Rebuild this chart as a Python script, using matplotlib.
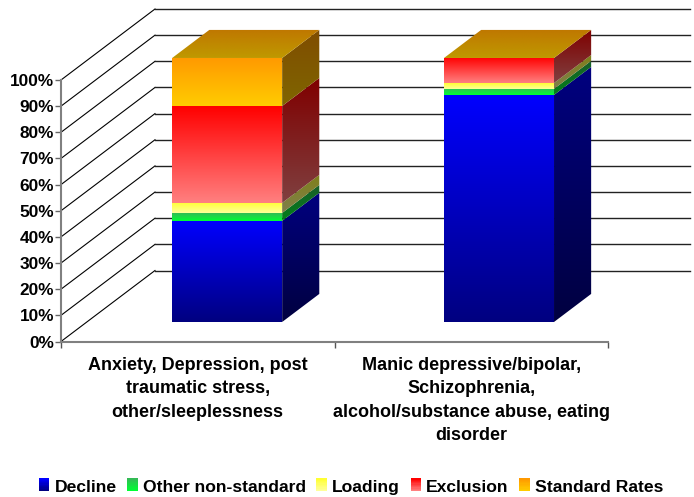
import numpy as np
import matplotlib
matplotlib.use("Agg")
import matplotlib.pyplot as plt
from matplotlib.colors import LinearSegmentedColormap, to_rgb
from matplotlib.legend_handler import HandlerBase
from matplotlib.patches import Polygon, Patch, Rectangle

plt.rcParams['font.family'] = ['Liberation Sans', 'DejaVu Sans']

categories = ["Anxiety, Depression, post\ntraumatic stress,\nother/sleeplessness",
              "Manic depressive/bipolar,\nSchizophrenia,\nalcohol/substance abuse, eating\ndisorder"]
series_names = ["Decline", "Other non-standard", "Loading", "Exclusion", "Standard Rates"]
decline = [38.3, 86.0]
other_non_standard = [3.0, 2.3]
loading = [3.8, 2.2]
exclusion = [36.7, 9.5]
standard_rates = [18.2, 0.0]
y_ticks = list(range(0, 101, 10))

# top colour, bottom colour of each series
grad_top = ["#0000ff", "#33bb55", "#ffff33", "#ff0000", "#ff9900"]
grad_bot = ["#000080", "#00ff33", "#ffff99", "#ff8080", "#ffcc00"]

# depth of the 3d box, in axes data units
WALL_DX = 94 / 273.5
WALL_DY = 71 / 2.615
BAR_T0 = 0.275
BAR_T1 = 0.67
BAR_W = 110 / 273.5
BAR_X = [0.513, 1.507]
BAR_SCALE = 264 / 261.5  # the boxes come out a touch taller than the axis


def project(x, v, t):
    return x + t * WALL_DX, v + t * WALL_DY


def darker(c, f=0.5):
    return tuple(f * a for a in to_rgb(c))


def face(ax, corners, top, bot, z):
    xs = [c[0] for c in corners]
    ys = [c[1] for c in corners]
    cmap = LinearSegmentedColormap.from_list("g", [top, bot])
    grad = np.linspace(0, 1, 128).reshape(-1, 1)
    im = ax.imshow(grad, cmap=cmap, aspect="auto", zorder=z, interpolation="bilinear",
                   extent=[min(xs), max(xs), min(ys), max(ys)], origin="upper")
    clip = Polygon(corners, closed=True, transform=ax.transData)
    im.set_clip_path(clip)
    im.set_clip_box(fig.bbox)


class GradHandler(HandlerBase):
    def create_artists(self, legend, orig, xd, yd, width, height, fontsize, trans):
        n = 10
        out = []
        for i in range(n):
            c = np.array(to_rgb(orig.top)) * (1 - i / (n - 1)) + np.array(to_rgb(orig.bot)) * i / (n - 1)
            r = Rectangle((xd, yd + height * (1 - (i + 1) / n)), width, height / n + 0.2,
                          facecolor=c, edgecolor="none", transform=trans)
            out.append(r)
        return out


fig = plt.figure(figsize=(6.94, 4.97), dpi=100)
ax = fig.add_axes([61 / 694, (497 - 341.5) / 497, 547 / 694, 261.5 / 497])

# walls
for v in y_ticks:
    x0, y0 = project(0, v, 0)
    x1, y1 = project(0, v, 1)
    ax.plot([x0, x1], [y0, y1], color="black", lw=0.8, clip_on=False, zorder=1)
    ax.plot([x1, 2.3], [y1, y1], color="#222222", lw=1.0, clip_on=False, zorder=1)

# bars
table = np.array([decline, other_non_standard, loading, exclusion, standard_rates])
for b, xc in enumerate(BAR_X):
    left = xc - BAR_W / 2
    right = xc + BAR_W / 2
    base = 0
    for s in range(len(series_names)):
        val = table[s][b] * BAR_SCALE
        if val <= 0:
            continue
        top = base + val
        front = [project(left, base, BAR_T0), project(right, base, BAR_T0),
                 project(right, top, BAR_T0), project(left, top, BAR_T0)]
        side = [project(right, base, BAR_T0), project(right, base, BAR_T1),
                project(right, top, BAR_T1), project(right, top, BAR_T0)]
        face(ax, front, grad_top[s], grad_bot[s], 3)
        face(ax, side, darker(grad_top[s]), darker(grad_bot[s]), 3)
        base = top
    lid = [project(left, base, BAR_T0), project(right, base, BAR_T0),
           project(right, base, BAR_T1), project(left, base, BAR_T1)]
    face(ax, lid, "#bf7700", "#bf9900", 3)

ax.set_xlim(0, 2)
ax.set_ylim(0, 100)
ax.set_yticks(y_ticks)
ax.set_yticklabels([f"{v}%" for v in y_ticks], fontsize=12.4, fontweight="bold")
ax.set_xticks([0, 1, 2])
ax.set_xticklabels([])
ax.set_xticks([0.5, 1.5], minor=True)
ax.set_xticklabels(categories, minor=True, fontsize=13, fontweight="bold", linespacing=1.5)
ax.tick_params(axis="x", which="major", length=4, width=1, color="#555555", direction="out")
ax.tick_params(axis="x", which="minor", length=0, pad=11)
ax.tick_params(axis="y", length=4, width=1, color="#666666", pad=1)
for name in ["top", "right"]:
    ax.spines[name].set_visible(False)
for name in ["left", "bottom"]:
    ax.spines[name].set_color("#808080")
    ax.spines[name].set_linewidth(1.5)
ax.patch.set_alpha(0)

handles = []
for s in range(len(series_names)):
    h = Patch()
    h.top = grad_top[s]
    h.bot = grad_bot[s]
    handles.append(h)
fig.legend(handles, series_names, handler_map={Patch: GradHandler()}, ncol=5, frameon=False,
           loc="center", bbox_to_anchor=(351 / 694, (497 - 487) / 497),
           prop={"size": 12.6, "weight": "bold"}, handlelength=0.6, handleheight=0.75,
           handletextpad=0.3, columnspacing=0.6)

fig.savefig("out.png", dpi=100)
